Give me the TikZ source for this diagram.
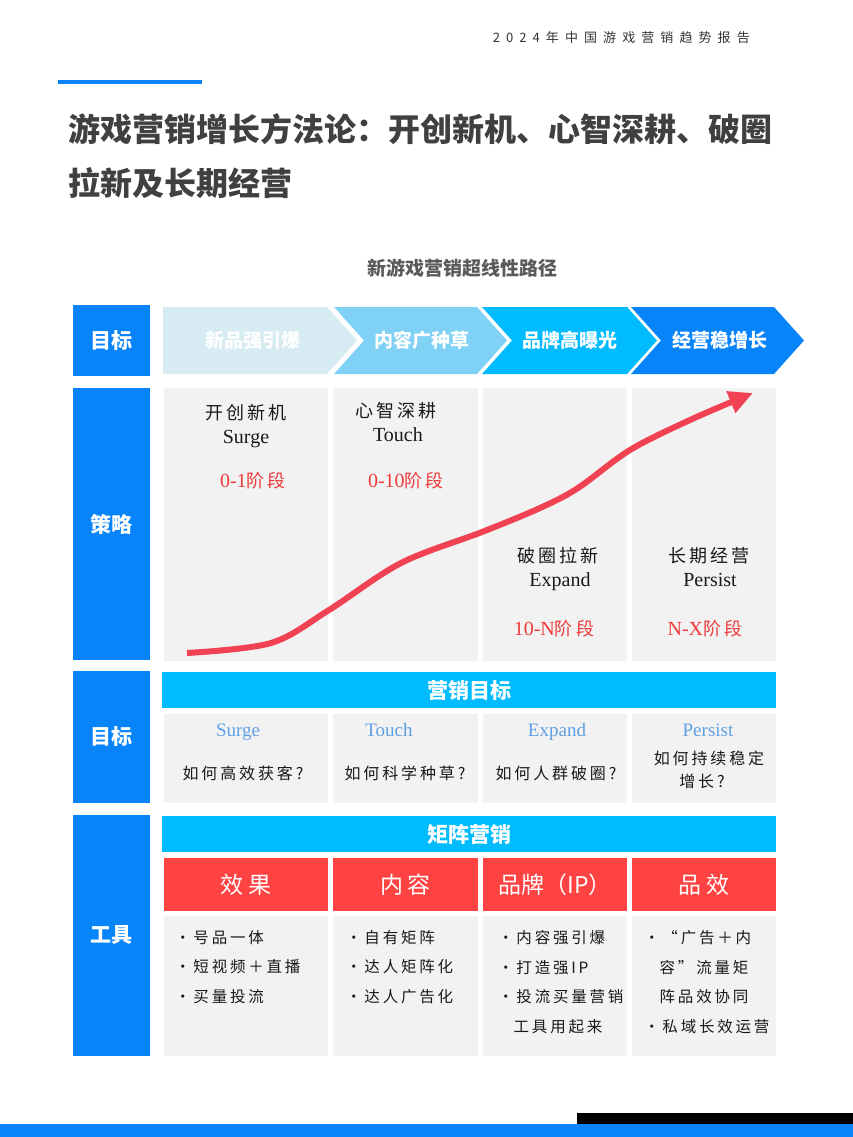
\documentclass[tikz,border=0pt]{standalone}
\usepackage{fontspec}
\setmainfont{Liberation Serif}
\newfontfamily\cjk{Noto Sans CJK SC}
\newfontfamily\cjkwide[LetterSpace=18]{Noto Sans CJK SC}
\usetikzlibrary{positioning,arrows.meta}

\definecolor{mainblue}{RGB}{8,132,250}
\definecolor{skyblue}{RGB}{0,188,255}
\definecolor{paleblue}{RGB}{214,235,242}
\definecolor{lightblue}{RGB}{127,209,245}
\definecolor{cellgray}{RGB}{242,242,242}
\definecolor{headred}{RGB}{255,66,66}
\definecolor{curvered}{RGB}{240,66,82}
\definecolor{stagered}{RGB}{238,58,58}
\definecolor{titlegray}{RGB}{64,64,64}
\definecolor{subgray}{RGB}{90,90,90}
\definecolor{nameblue}{RGB}{95,160,228}

\begin{document}
\begin{tikzpicture}[x=1pt,y=-1pt,
    labelbox/.style={rectangle, fill=mainblue, text=white, font=\cjk\bfseries\fontsize{21}{21}\selectfont, minimum width=77pt, inner sep=0pt, outer sep=0pt},
    graycell/.style={rectangle, fill=cellgray, inner sep=0pt, outer sep=0pt},
    banner/.style={rectangle, fill=skyblue, text=white, font=\cjk\bfseries\fontsize{21}{21}\selectfont, minimum width=614pt, minimum height=36pt, inner sep=0pt},
    redhead/.style={rectangle, fill=headred, text=white, font=\cjkwide\fontsize{23}{23}\selectfont, minimum height=53pt, inner sep=0pt, outer sep=0pt},
    chevtext/.style={text=white, font=\cjk\bfseries\fontsize{19}{19}\selectfont, inner sep=0pt},
    stagetext/.style={anchor=base, inner sep=0pt, text=black!90, font=\cjkwide\fontsize{18}{18}\selectfont},
    engtext/.style={anchor=base, inner sep=0pt, text=black!90, font=\fontsize{20}{20}\selectfont},
    stagered/.style={anchor=base, inner sep=0pt, text=stagered, font=\cjkwide\fontsize{18}{18}\selectfont},
    goaltext/.style={anchor=base, inner sep=0pt, text=black!90, font=\cjkwide\fontsize{16}{16}\selectfont},
    bullettext/.style={anchor=north west, inner sep=0pt, align=left, text=black!90, font=\cjkwide\fontsize{15.5}{29.7}\selectfont},
    trend/.style={draw=curvered, line width=6pt, -{Triangle[length=24pt,width=22pt]}}]

    \useasboundingbox (0,0) rectangle (853,1137);

    % header and title
    \node[anchor=base east, inner sep=0pt, text=black!80, font=\cjk\fontsize{13}{13}\selectfont] (hdr) at (750,43)
        {\makebox[257pt][s]{2\hfill{}0\hfill{}2\hfill{}4\hfill{}年\hfill{}中\hfill{}国\hfill{}游\hfill{}戏\hfill{}营\hfill{}销\hfill{}趋\hfill{}势\hfill{}报\hfill{}告}};
    \fill[mainblue] (58,80) rectangle (202,84);
    \node[anchor=base west, inner sep=0pt, text=titlegray, font=\cjk\bfseries\fontsize{32}{32}\selectfont] (title1) at (68,142) {游戏营销增长方法论：开创新机、心智深耕、破圈};
    \node[anchor=base west, inner sep=0pt, text=titlegray, font=\cjk\bfseries\fontsize{32}{32}\selectfont] (title2) at (68,195) {拉新及长期经营};
    \node[text=subgray, font=\cjk\bfseries\fontsize{19}{19}\selectfont] (sub) at (462,268) {新游戏营销超线性路径};

    % left labels
    \node[labelbox, minimum height=71pt, anchor=north west] (lab1) at (73,305) {目标};
    \node[labelbox, minimum height=272pt, anchor=north west] (lab2) at (73,388) {策略};
    \node[labelbox, minimum height=132pt, anchor=north west] (lab3) at (73,671) {目标};
    \node[labelbox, minimum height=241pt, anchor=north west] (lab4) at (73,815) {工具};

    % row 1: chevrons
    \foreach \l/\r/\n/\tx/\c/\t [count=\i] in {163/327/0/253/paleblue/新品强引爆, 334/477/30/422/lightblue/内容广种草, 482/627/30/570/skyblue/品牌高曝光, 631/774/30/720/mainblue/经营稳增长}{
        \fill[\c] (\l,307) -- (\r,307) -- (\r+30,340.5) -- (\r,374) -- (\l,374) -- (\l+\n,340.5) -- cycle;
        \node[chevtext] (chev\i) at (\tx,340.5) {\t};
    }

    % row 2: strategy
    \node[graycell, minimum width=164pt, minimum height=273pt, anchor=north west] (s1) at (164,388) {};
    \node[graycell, minimum width=145pt, minimum height=273pt, right=5pt of s1] (s2) {};
    \node[graycell, minimum width=144pt, minimum height=273pt, right=5pt of s2] (s3) {};
    \node[graycell, minimum width=144pt, minimum height=273pt, right=5pt of s3] (s4) {};

    \node[stagetext] (st1) at (246,419) {开创新机};
    \node[engtext] (en1) at (246,443) {Surge};
    \node[stagered] (sr1) at (253,487) {{\rmfamily\fontsize{20}{20}\selectfont 0-1}阶段};
    \node[stagetext] (st2) at (396,417) {心智深耕};
    \node[engtext] (en2) at (398,441) {Touch};
    \node[stagered] (sr2) at (406,487) {{\rmfamily\fontsize{20}{20}\selectfont 0-10}阶段};
    \node[stagetext] (st3) at (558,562) {破圈拉新};
    \node[engtext] (en3) at (560,586) {Expand};
    \node[stagered] (sr3) at (554,635) {{\rmfamily\fontsize{20}{20}\selectfont 10-N}阶段};
    \node[stagetext] (st4) at (709,562) {长期经营};
    \node[engtext] (en4) at (710,586) {Persist};
    \node[stagered] (sr4) at (705,635) {{\rmfamily\fontsize{20}{20}\selectfont N-X}阶段};

    \coordinate (cstart) at (187,653);
    \coordinate (cend) at (753,393);
    \draw[trend] plot[smooth, tension=0.55] coordinates {(cstart) (271,643) (329,610) (401,563) (482,532) (540,508) (578,488) (630,450) (690,420) (cend)};

    % row 3: goals
    \node[banner, anchor=north west] (ban1) at (162,672) {营销目标};
    \node[graycell, minimum width=164pt, minimum height=89pt, anchor=north west] (g1) at (164,714) {};
    \node[graycell, minimum width=145pt, minimum height=89pt, right=5pt of g1] (g2) {};
    \node[graycell, minimum width=144pt, minimum height=89pt, right=5pt of g2] (g3) {};
    \node[graycell, minimum width=144pt, minimum height=89pt, right=5pt of g3] (g4) {};

    \node[engtext, text=nameblue, font=\fontsize{19}{19}\selectfont] (gn1) at (238,736) {Surge};
    \node[engtext, text=nameblue, font=\fontsize{19}{19}\selectfont] (gn2) at (389,736) {Touch};
    \node[engtext, text=nameblue, font=\fontsize{19}{19}\selectfont] (gn3) at (557,736) {Expand};
    \node[engtext, text=nameblue, font=\fontsize{19}{19}\selectfont] (gn4) at (708,736) {Persist};
    \node[goaltext] (gq1) at (243,779) {如何高效获客?};
    \node[goaltext] (gq2) at (405,779) {如何科学种草?};
    \node[goaltext] (gq3) at (556,779) {如何人群破圈?};
    \node[goaltext] (gq4) at (709,764) {如何持续稳定};
    \node[goaltext] (gq5) at (702,787) {增长?};

    % row 4: tools
    \node[banner, anchor=north west] (ban2) at (162,816) {矩阵营销};
    \node[redhead, minimum width=164pt, anchor=north west] (h1) at (164,858) {效果};
    \node[redhead, minimum width=145pt, right=5pt of h1] (h2) {内容};
    \node[redhead, minimum width=144pt, right=5pt of h2, font=\cjk\fontsize{23}{23}\selectfont] (h3) {品牌（IP）};
    \node[redhead, minimum width=144pt, right=5pt of h3] (h4) {品效};

    \node[graycell, minimum width=164pt, minimum height=140pt, anchor=north west] (t1) at (164,916) {};
    \node[graycell, minimum width=145pt, minimum height=140pt, right=5pt of t1] (t2) {};
    \node[graycell, minimum width=144pt, minimum height=140pt, right=5pt of t2] (t3) {};
    \node[graycell, minimum width=144pt, minimum height=140pt, right=5pt of t3] (t4) {};

    \node[bullettext] (b1) at (175,930) {•号品一体\\•短视频＋直播\\•买量投流};
    \node[bullettext] (b2) at (346,930) {•自有矩阵\\•达人矩阵化\\•达人广告化};
    \node[bullettext] (b3) at (498,930) {•内容强引爆\\•打造强IP\\•投流买量营销\\\phantom{•}工具用起来};
    \node[bullettext] (b4) at (644,930) {•“广告＋内\\\phantom{•}容”流量矩\\\phantom{•}阵品效协同\\•私域长效运营};

    % footer bars
    \fill[mainblue] (0,1124) rectangle (853,1137);
    \fill[black] (577,1113) rectangle (853,1124);

\end{tikzpicture}
\end{document}
